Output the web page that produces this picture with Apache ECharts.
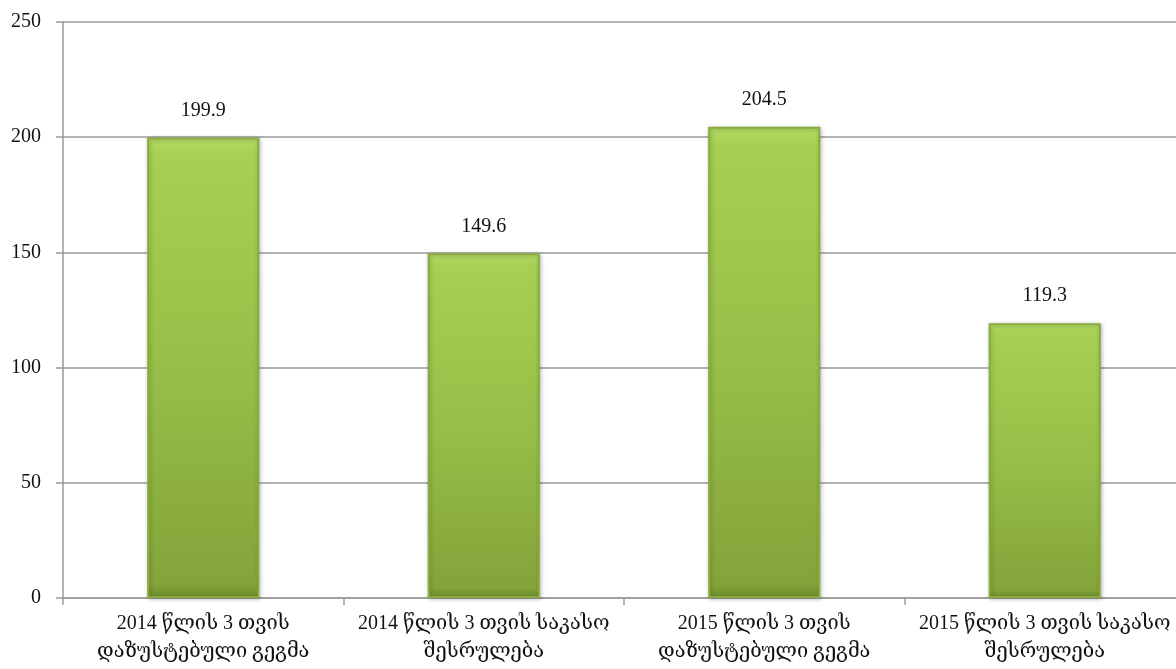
<!DOCTYPE html>
<html>
<head>
<meta charset="utf-8">
<script src="https://cdn.jsdelivr.net/npm/echarts@6/dist/echarts.min.js"></script>
<style>
  html, body { margin: 0; padding: 0; background: #ffffff; }
  #chart { width: 1176px; height: 669px; }
</style>
</head>
<body>
<div id="chart"></div>
<script>
// Budget figures for the first three months, plan vs. cash execution
const categories = [
  '2014 წლის 3 თვის\nდაზუსტებული გეგმა',
  '2014 წლის 3 თვის საკასო\nშესრულება',
  '2015 წლის 3 თვის\nდაზუსტებული გეგმა',
  '2015 წლის 3 თვის საკასო\nშესრულება'
];
const values = [199.9, 149.6, 204.5, 119.3];
const yTicks = { min: 0, max: 250, interval: 50 };

const FONT = "'Liberation Serif', 'DejaVu Serif', serif";

const chart = echarts.init(document.getElementById('chart'));
chart.setOption({
  animation: false,
  backgroundColor: '#ffffff',
  grid: {
    left: 63, top: 22, width: 1122, height: 576,
    containLabel: false,
    outerBoundsMode: 'none'
  },
  xAxis: {
    type: 'category',
    data: categories,
    axisLine: { lineStyle: { color: '#9a9a9a', width: 1.5 } },
    axisTick: { show: true, length: 7, lineStyle: { color: '#9a9a9a', width: 1.5 } },
    axisLabel: {
      interval: 0,
      color: '#111',
      fontFamily: FONT,
      fontSize: 20,
      lineHeight: 28,
      margin: 12
    }
  },
  yAxis: {
    type: 'value',
    min: yTicks.min,
    max: yTicks.max,
    interval: yTicks.interval,
    axisLine: { show: true, lineStyle: { color: '#9a9a9a', width: 1.5 } },
    axisTick: { show: true, length: 7, lineStyle: { color: '#9a9a9a', width: 1.5 } },
    splitLine: { lineStyle: { color: '#9a9a9a', width: 1.5 } },
    axisLabel: { color: '#111', fontFamily: FONT, fontSize: 20, margin: 22 }
  },
  series: [{
    type: 'bar',
    data: values,
    barWidth: '40%',
    itemStyle: {
      color: new echarts.graphic.LinearGradient(0, 0, 0, 1, [
        { offset: 0, color: '#b4dc66' },
        { offset: 0.04, color: '#a6d052' },
        { offset: 0.5, color: '#97bf48' },
        { offset: 0.97, color: '#84a43a' },
        { offset: 1, color: '#6f8c2c' }
      ]),
      borderColor: '#8aab3e',
      borderWidth: 2,
      shadowColor: 'rgba(0,0,0,0.25)',
      shadowBlur: 4,
      shadowOffsetX: 1,
      shadowOffsetY: 1
    },
    label: {
      show: true,
      position: 'top',
      distance: 17,
      color: '#111',
      fontFamily: FONT,
      fontSize: 20,
      formatter: p => p.value.toFixed(1)
    }
  }]
});
</script>
</body>
</html>
